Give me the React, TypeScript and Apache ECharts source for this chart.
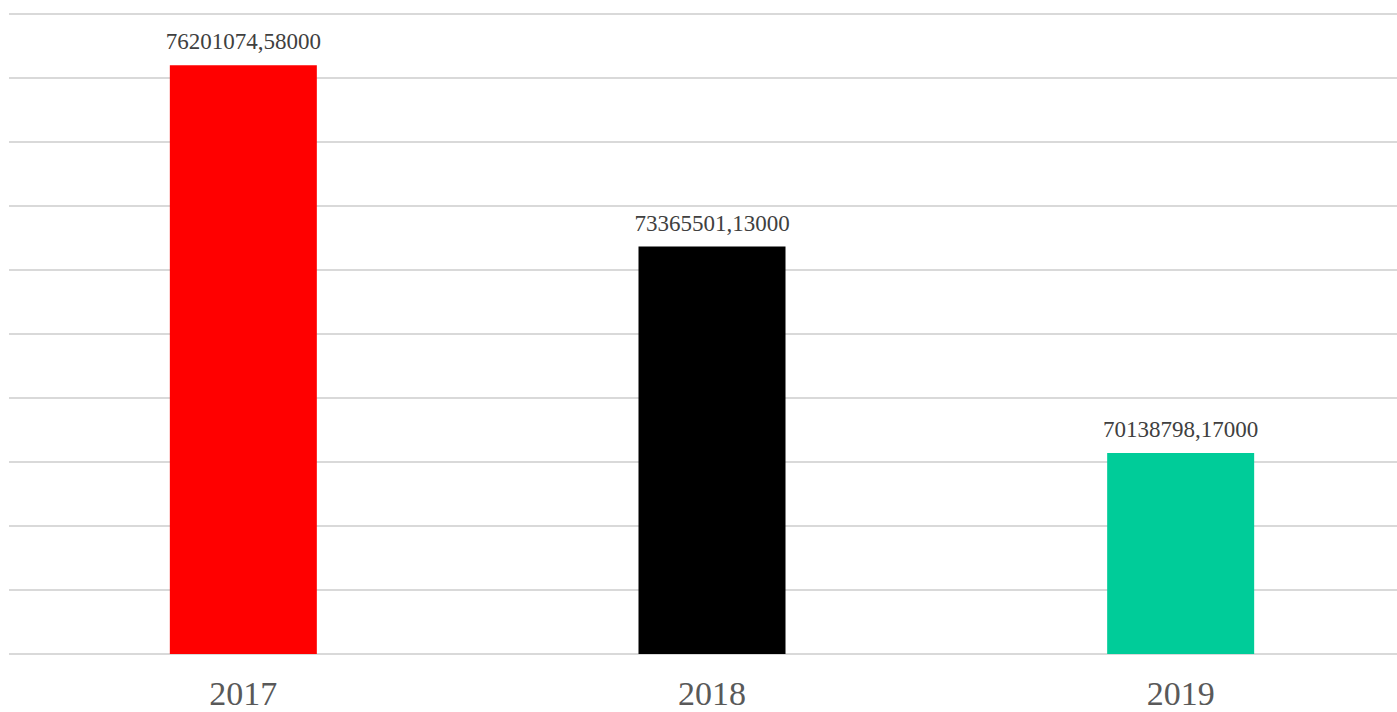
import React, { useEffect, useRef } from "react";
import * as echarts from "echarts";

const categories = ["2017", "2018", "2019"];
const values = [76201074.58, 73365501.13, 70138798.17];
const labels = ["76201074,58000", "73365501,13000", "70138798,17000"];
const colors = ["#ff0000", "#000000", "#00cc99"];

export default function App() {
  const ref = useRef<HTMLDivElement>(null);
  useEffect(() => {
    const chart = echarts.init(ref.current!, undefined, { renderer: "svg" });
    chart.setOption({
      animation: false,
      grid: { left: 9, top: 14, bottom: 58, right: 0, containLabel: false },
      xAxis: {
        type: "category",
        data: categories,
        axisLine: { show: false },
        axisTick: { show: false },
        axisLabel: {
          fontFamily: "Liberation Serif, Times New Roman, serif",
          fontSize: 34,
          lineHeight: 26,
          color: "#595959",
          margin: 26,
        },
      },
      yAxis: {
        type: "value",
        min: 67000000,
        max: 77000000,
        interval: 1000000,
        axisLabel: { show: false },
        axisLine: { show: false },
        axisTick: { show: false },
        splitLine: { lineStyle: { color: "#d9d9d9", width: 2 } },
      },
      series: [
        {
          type: "bar",
          barWidth: 147,
          data: values.map((v, i) => ({
            value: v,
            itemStyle: { color: colors[i] },
            label: { formatter: labels[i] },
          })),
          label: {
            show: true,
            position: "top",
            distance: 12,
            fontFamily: "Liberation Serif, Times New Roman, serif",
            fontSize: 23,
            color: "#404040",
          },
        },
      ],
    });
    return () => chart.dispose();
  }, []);
  return (
    <div style={{ position: "fixed", left: 0, top: 0, width: 1397, height: 712, overflow: "hidden", background: "#fff" }}>
      <div ref={ref} style={{ position: "absolute", left: 0, top: 0, width: 1415, height: 712 }} />
    </div>
  );
}
